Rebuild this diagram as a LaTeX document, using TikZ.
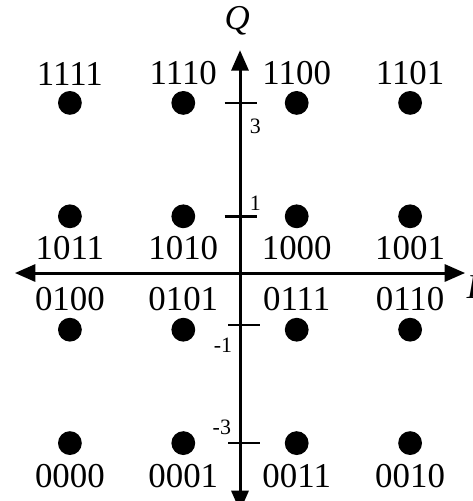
\documentclass[tikz,border=0pt]{standalone}
\usepackage{fontspec}
\setmainfont{Liberation Serif}
\usepackage{tikz}
\usetikzlibrary{arrows.meta, positioning}
\tikzset{
    pt/.style={circle, fill=black, minimum size=0.42cm, inner sep=0pt},
    code/.style={inner sep=0pt, font=\fontsize{17.5}{20}\selectfont},
    ticklbl/.style={inner sep=0pt, font=\fontsize{11}{13}\selectfont},
    axis/.style={line width=1.5pt, -{Triangle[length=0.36cm, width=0.3cm]}}
}

\begin{document}
\begin{tikzpicture}
    \useasboundingbox (-4.233,-4.021) rectangle (4.109,4.815);

        % axes
        \coordinate (o) at (0,0);
        \coordinate (west) at (-3.97,0);
        \coordinate (east) at (3.97,0);
        \coordinate (north) at (0,3.93);
        \coordinate (south) at (0,-4.2);
        \draw[axis] (o) -- (west);
        \draw[axis] (o) -- (east);
        \draw[axis] (o) -- (north);
        \draw[axis] (o) -- (south);

        \node (qlbl) at (-0.05,4.44) {\fontsize{17.5}{20}\selectfont\itshape Q};
        \node[inner sep=0pt] (ilbl) at (4.1,-0.24) {\fontsize{17.5}{20}\selectfont\itshape I};

        % ticks
        \draw[line width=1.2pt] (-0.27,3) -- (0.3,3);
        \draw[line width=1.2pt] (-0.27,1) -- (0.3,1);
        \draw[line width=1.2pt] (-0.21,-0.92) -- (0.36,-0.92);
        \draw[line width=1.2pt] (-0.21,-3) -- (0.36,-3);
        \node[ticklbl] (t3) at (0.27,2.58) {3};
        \node[ticklbl] (t1) at (0.27,1.23) {1};
        \node[ticklbl] (tm1) at (-0.3,-1.27) {-1};
        \node[ticklbl] (tm3) at (-0.32,-2.73) {-3};

        % constellation points
        \node[pt] (p1111) at (-3,3) {};
        \node[pt] (p1110) at (-1,3) {};
        \node[pt] (p1100) at (1,3) {};
        \node[pt] (p1101) at (3,3) {};
        \node[pt] (p1011) at (-3,1) {};
        \node[pt] (p1010) at (-1,1) {};
        \node[pt] (p1000) at (1,1) {};
        \node[pt] (p1001) at (3,1) {};
        \node[pt] (p0100) at (-3,-1) {};
        \node[pt] (p0101) at (-1,-1) {};
        \node[pt] (p0111) at (1,-1) {};
        \node[pt] (p0110) at (3,-1) {};
        \node[pt] (p0000) at (-3,-3) {};
        \node[pt] (p0001) at (-1,-3) {};
        \node[pt] (p0011) at (1,-3) {};
        \node[pt] (p0010) at (3,-3) {};

        \node[code, above=0.09cm of p1111] (l1111) {1111};
        \node[code, above=0.09cm of p1110] (l1110) {1110};
        \node[code, above=0.09cm of p1100] (l1100) {1100};
        \node[code, above=0.09cm of p1101] (l1101) {1101};
        \node[code, below=0.13cm of p1011] (l1011) {1011};
        \node[code, below=0.13cm of p1010] (l1010) {1010};
        \node[code, below=0.13cm of p1000] (l1000) {1000};
        \node[code, below=0.13cm of p1001] (l1001) {1001};
        \node[code, above=0.1cm of p0100] (l0100) {0100};
        \node[code, above=0.1cm of p0101] (l0101) {0101};
        \node[code, above=0.1cm of p0111] (l0111) {0111};
        \node[code, above=0.1cm of p0110] (l0110) {0110};
        \node[code, below=0.15cm of p0000] (l0000) {0000};
        \node[code, below=0.15cm of p0001] (l0001) {0001};
        \node[code, below=0.15cm of p0011] (l0011) {0011};
        \node[code, below=0.15cm of p0010] (l0010) {0010};
    \end{tikzpicture}
\end{document}
